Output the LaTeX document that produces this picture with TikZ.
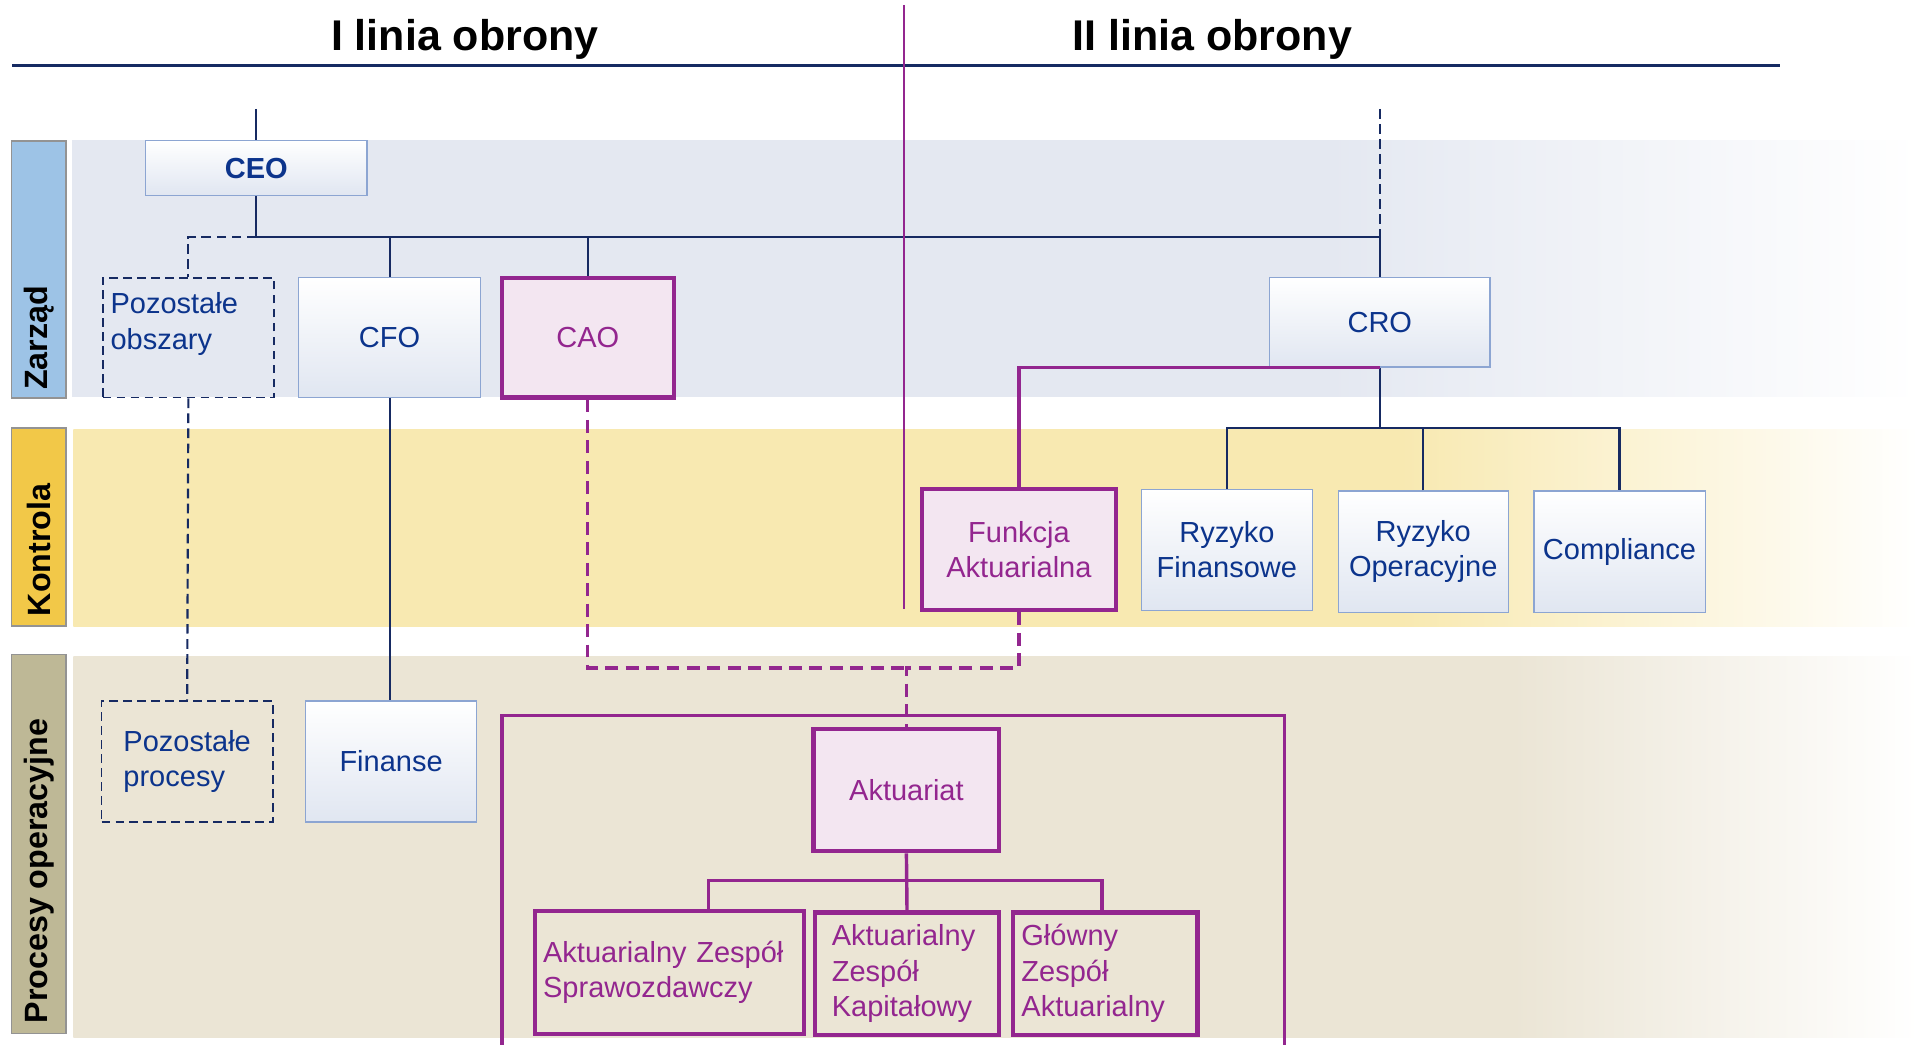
\documentclass[tikz,border=0pt]{standalone}
\usepackage{fontspec}
\setmainfont{Liberation Sans}
\usepackage{tikz}

\definecolor{navy}{RGB}{22,42,98}
\definecolor{boxtext}{RGB}{12,52,140}
\definecolor{purp}{RGB}{147,38,143}
\definecolor{pinkfill}{RGB}{243,230,241}
\definecolor{boxborder}{RGB}{140,165,210}
\definecolor{boxbottom}{RGB}{224,230,241}
\definecolor{zband}{RGB}{228,232,241}
\definecolor{kband}{RGB}{248,233,177}
\definecolor{pband}{RGB}{235,229,213}
\definecolor{zlabel}{RGB}{157,195,230}
\definecolor{klabel}{RGB}{242,200,72}
\definecolor{plabel}{RGB}{190,184,150}

\pgfdeclarehorizontalshading{zfade}{100bp}{color(0bp)=(zband); color(59bp)=(zband); color(75bp)=(white); color(100bp)=(white)}
\pgfdeclarehorizontalshading{kfade}{100bp}{color(0bp)=(kband); color(61bp)=(kband); color(75bp)=(white); color(100bp)=(white)}
\pgfdeclarehorizontalshading{pfade}{100bp}{color(0bp)=(pband); color(64bp)=(pband); color(75bp)=(white); color(100bp)=(white)}

\tikzset{
  boxfont/.style={font=\fontsize{13.5}{16.5}\selectfont},
  orgbox/.style={draw=boxborder, line width=0.6pt, top color=white, bottom color=boxbottom,
    text=boxtext, boxfont, align=center, inner sep=0pt},
  purpbox/.style={draw=purp, line width=1.9pt, fill=pinkfill, text=purp, boxfont, align=center, inner sep=0pt},
  teambox/.style={draw=purp, line width=1.9pt, text=purp, boxfont, align=left, inner xsep=0.14cm, inner ysep=0pt},
  dashbox/.style={draw=navy, line width=0.8pt, dash pattern=on 4pt off 2.5pt, text=boxtext, boxfont,
    align=left, inner sep=0pt},
  navyline/.style={draw=navy, line width=1pt},
  navydash/.style={navyline, dash pattern=on 4.5pt off 2.5pt},
  purpline/.style={draw=purp, line width=1.6pt},
  purpdash/.style={purpline, dash pattern=on 6pt off 3.5pt},
  lanebox/.style={draw=gray!85, line width=0.8pt},
  lanetext/.style={rotate=90, anchor=west, font=\fontsize{15}{18}\selectfont\bfseries, inner sep=0pt},
  linetitle/.style={font=\fontsize{20}{24}\selectfont\bfseries}
}

\begin{document}
\begin{tikzpicture}[x=0.02cm, y=-0.02cm]
    \useasboundingbox (0,0) rectangle (1568,854);

    \shade[shading=zfade] (59,115) rectangle (1568,324);
    \shade[shading=kfade] (60,351) rectangle (1568,512);
    \shade[shading=pfade] (60,537) rectangle (1568,848);

    \filldraw[lanebox, fill=zlabel] (9.5,115) rectangle (54,325.5);
    \filldraw[lanebox, fill=klabel] (9.5,350) rectangle (54,511.5);
    \filldraw[lanebox, fill=plabel] (9.5,535) rectangle (54,845);
    \node[lanetext] (zlab) at (32,319) {Zarząd};
    \node[lanetext] (klab) at (32,504) {Kontrola};
    \node[lanetext] (plab) at (32,837) {Procesy operacyjne};

    \node[linetitle] (t1) at (380,32) {I linia obrony};
    \node[linetitle] (t2) at (991,32) {II linia obrony};
    \draw[navy, line width=1.3pt] (10,53.5) -- (1455,53.5);

    \node[orgbox, font=\fontsize{13.5}{16.5}\selectfont\bfseries, minimum width=3.62cm, minimum height=0.9cm] (ceo) at (209.5,137.5) {CEO};
    \node[dashbox, minimum width=2.8cm, minimum height=1.96cm] (obsz) at (154,276) {};
    \node[boxfont, text=boxtext, align=left, anchor=west, inner sep=0pt] (obszt) at (90,265) {Pozostałe\\obszary};
    \node[orgbox, minimum width=2.98cm, minimum height=1.96cm] (cfo) at (318.5,276) {CFO};
    \node[purpbox, minimum width=2.82cm, minimum height=1.96cm] (cao) at (480.5,276) {CAO};
    \node[orgbox, minimum width=3.6cm, minimum height=1.46cm] (cro) at (1128,263.5) {CRO};

    \node[purpbox, minimum width=3.16cm, minimum height=1.98cm] (fa) at (833,449.5) {Funkcja\\Aktuarialna};
    \node[orgbox, minimum width=2.8cm, minimum height=1.98cm] (rf) at (1003,449.5) {Ryzyko\\Finansowe};
    \node[orgbox, minimum width=2.78cm, minimum height=1.98cm] (ro) at (1163.5,451) {Ryzyko\\Operacyjne};
    \node[orgbox, minimum width=2.8cm, minimum height=1.98cm] (comp) at (1324,451) {Compliance};

    \node[dashbox, align=left, minimum width=2.8cm, minimum height=1.98cm] (proc) at (153,622.5) {Pozostałe\\procesy};
    \node[orgbox, minimum width=2.79cm, minimum height=1.98cm] (fin) at (319.75,622.5) {Finanse};
    \node[purpbox, minimum width=3.04cm, minimum height=2cm] (akt) at (741,646) {Aktuariat};
    \node[teambox, text width=4.12cm, minimum height=2cm] (azs) at (547,795) {Aktuarialny Zespół\\Sprawozdawczy};
    \node[teambox, inner xsep=0.28cm, text width=2.46cm, minimum height=2cm] (azk) at (741.5,796) {Aktuarialny\\Zespół\\Kapitałowy};
    \node[teambox, text width=2.74cm, minimum height=2cm] (gza) at (903.5,796) {Główny\\Zespół\\Aktuarialny};

    \coordinate (ceotop) at (209.5,89);
    \coordinate (crotop) at (1128,89);
    \coordinate (ceobus) at (209.5,193.5);
    \coordinate (crobus) at (1128,350);
    \coordinate (aktjn) at (741,546);
    \coordinate (akbus) at (741,720);

    \draw[navyline] (ceotop) -- (ceo.north);
    \draw[navyline] (ceo.south) -- (ceobus) -| (cro.north);
    \draw[navyline] (cfo.north) -- (cfo.north |- ceobus);
    \draw[navyline] (cao.north) -- (cao.north |- ceobus);
    \draw[navydash] (ceobus) -| (obsz.north);
    \draw[navydash] (crotop) -- (crotop |- ceobus);
    \draw[navydash] (obsz.south) -- (proc.north);
    \draw[navyline] (cfo.south) -- (cfo.south |- fin.north);
    \draw[navyline] (cro.south) -- (crobus);
    \draw[navyline] (rf.north) |- (crobus) -| (comp.north);
    \draw[navyline] (ro.north) -- (ro.north |- crobus);

    \draw[purpline] (cro.south) -| (fa.north);
    \draw[purpdash] (cao.south) |- (aktjn);
    \draw[purpdash] (fa.south) |- (aktjn) -- (akt.north);
    \draw[purpline] (akt.south) -- (azk.north);
    \draw[purpline] ([xshift=0.64cm]azs.north) |- (akbus) -| ([xshift=-0.05cm]gza.north);
    \draw[purpline] (410.5,854) |- (1050,585) -- (1050,854);

    \draw[purp, line width=1.2pt] (739,4) -- (739,498);
\end{tikzpicture}
\end{document}
